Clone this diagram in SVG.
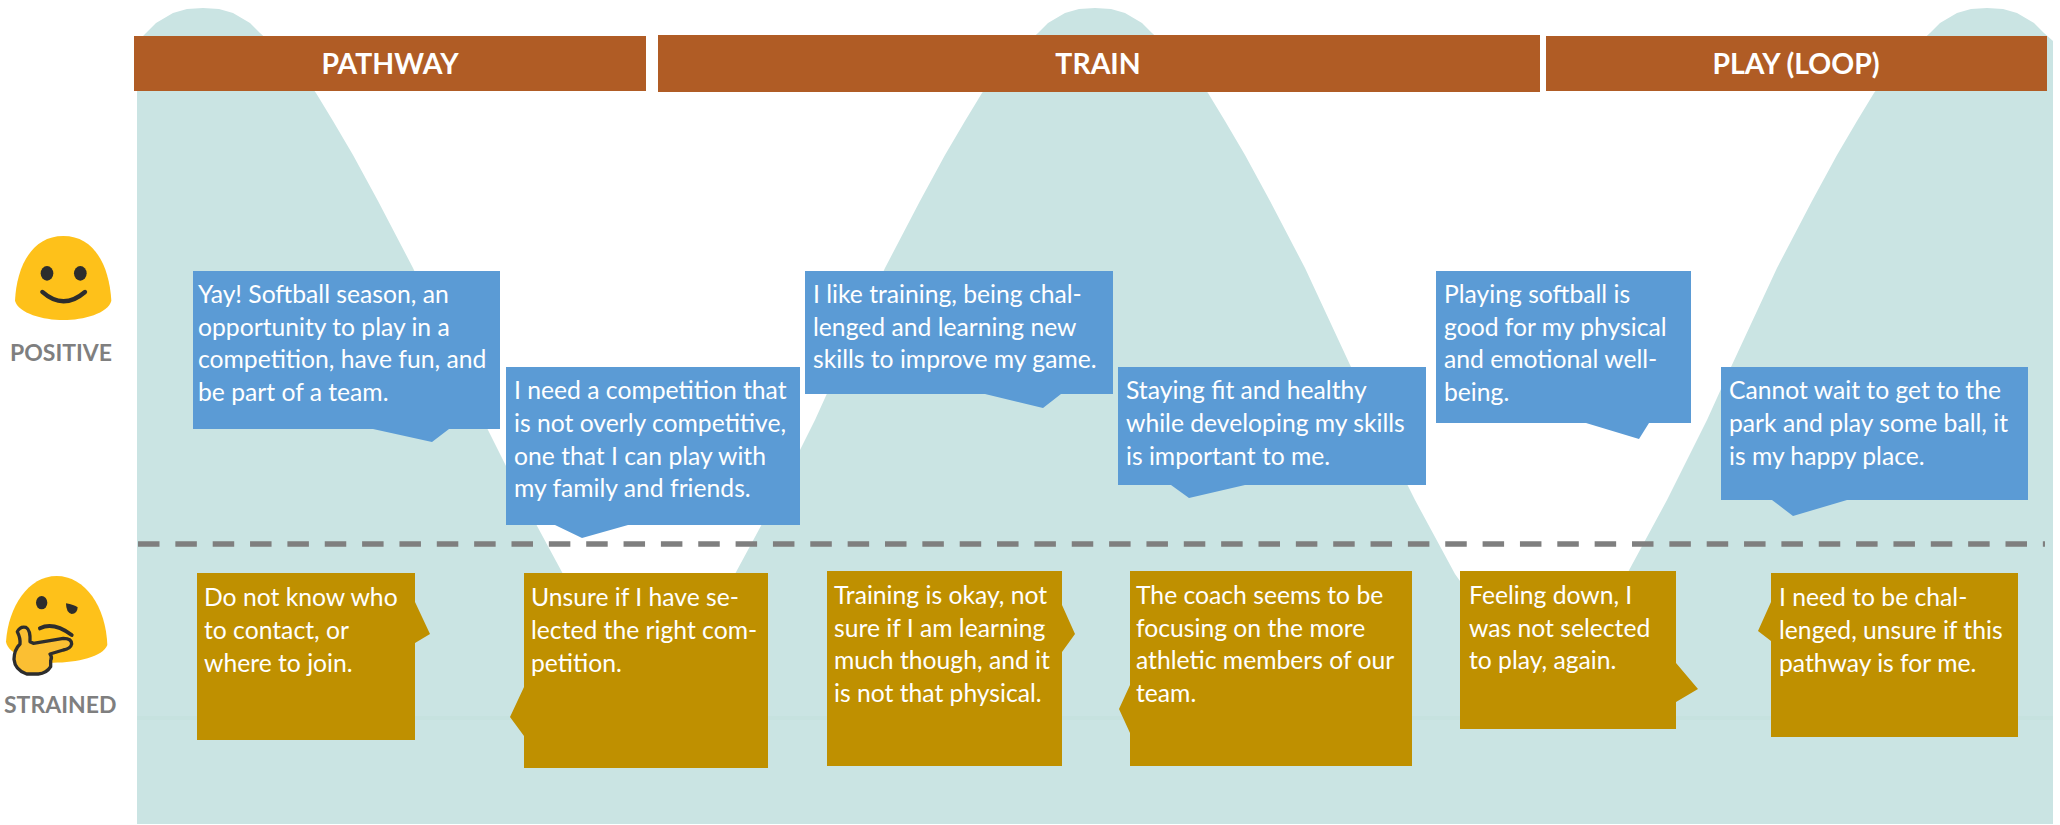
<svg xmlns="http://www.w3.org/2000/svg" width="2060" height="825" viewBox="0 0 2060 825">
<style>
text{font-family:"Lato","Liberation Sans",sans-serif}
.t{fill:#fff;font-size:24.7px}
.h{fill:#fff;font-size:28.4px;font-weight:700;text-anchor:middle}
.l{fill:#7f7f7f;font-size:23px;font-weight:700}
.hd{fill:#b05c25}
.bl{fill:#5b9bd5}
.gd{fill:#bf9000}
.yl{fill:#fec11a}
.dk{fill:#2d2d2d}
</style>
<rect width="2060" height="825" fill="#fff"/>
<g id="background">
<path fill="#cae4e3" d="M137 824V42L146 33 156 23 173 13 187 9 203 8 219 9 233 13 250 23 260 33 273 45 288 60 303 76 316 93 333 121 353 155 378 201 413 268 459 367 483 420 523 500 563 574 603 630 649 650 695 630 735 574 775 500 815 420 839 367 885 268 920 201 945 155 965 121 982 93 995 76 1010 60 1025 45 1038 33 1048 23 1065 13 1079 9 1095 8 1111 9 1125 13 1142 23 1152 33 1165 45 1180 60 1195 76 1208 93 1225 121 1245 155 1270 201 1305 268 1351 367 1375 420 1415 500 1455 574 1495 630 1541 650 1587 630 1627 574 1667 500 1707 420 1731 367 1777 268 1812 201 1837 155 1857 121 1874 93 1887 76 1902 60 1917 45 1930 33 1940 23 1957 13 1971 9 1987 8 2003 9 2017 13 2034 23 2044 33 2053 41V824Z"/>
<rect x="137" y="716" width="1916" height="4" fill="#c6e2df"/>
</g>
<g id="headers">
<g id="h-pathway"><rect class="hd" x="134" y="36" width="512" height="55"/><text class="h" x="390" y="74">PATHWAY</text></g>
<g id="h-train"><rect class="hd" x="658" y="35" width="882" height="57"/><text class="h" x="1098" y="74">TRAIN</text></g>
<g id="h-play"><rect class="hd" x="1546" y="36" width="501" height="55"/><text class="h" x="1796" y="74">PLAY (LOOP)</text></g>
</g>
<g id="connectors">
<line x1="138" y1="544" x2="2045" y2="544" stroke="#7f7f7f" stroke-width="5.5" stroke-dasharray="21.5 15.85"/>
</g>
<g id="positive">
<g transform="translate(0 230) scale(.3333)">
<path class="yl" d="M190 18C95 18 50 110 45 212C55 250 130 270 190 270C250 270 325 250 334 212C328 110 285 18 190 18Z"/>
<ellipse class="dk" cx="141" cy="130" rx="19" ry="22"/><ellipse class="dk" cx="241" cy="130" rx="19" ry="22"/>
<path d="M127 186Q190 242 255 186" fill="none" stroke="#2d2d2d" stroke-width="13" stroke-linecap="round"/>
</g>
<text class="l" x="10" y="361">POSITIVE</text>
</g>
<g id="strained">
<g transform="translate(0 570) scale(.3333)">
<path class="yl" d="M170 18C85 18 25 110 18 215C25 255 100 278 160 278C230 278 310 260 322 225C318 110 255 18 170 18Z"/>
<ellipse class="dk" cx="125" cy="98" rx="17" ry="20"/>
<path class="dk" d="M198 100Q222 104 233 112Q232 132 215 132Q198 128 198 100Z"/>
<path d="M120 175Q160 155 215 195" fill="none" stroke="#2d2d2d" stroke-width="12" stroke-linecap="round"/>
<path d="M52 185Q60 168 78 172Q92 180 90 215L100 220 190 205Q215 205 215 222Q212 236 190 240L150 252Q158 262 152 272L152 290Q140 310 115 312L80 312Q45 300 42 268Q42 240 60 222Q62 205 52 185Z" fill="#fbbf33" stroke="#2d2d2d" stroke-width="10" stroke-linejoin="round"/>
</g>
<text class="l" x="4" y="713">STRAINED</text>
</g>
<g id="b1"><path class="bl" d="M193 271H500V429H449L432 442 373 429H193Z"/><text class="t"><tspan x="198" y="303">Yay! Softball season, an</tspan><tspan x="198" y="336">opportunity to play in a</tspan><tspan x="198" y="368">competition, have fun, and</tspan><tspan x="198" y="401">be part of a team.</tspan></text></g>
<g id="b2"><path class="bl" d="M506 367H800V525H628L582 538 555 525H506Z"/><text class="t"><tspan x="514" y="399">I need a competition that</tspan><tspan x="514" y="432">is not overly competitive,</tspan><tspan x="514" y="465">one that I can play with</tspan><tspan x="514" y="497">my family and friends.</tspan></text></g>
<g id="b3"><path class="bl" d="M805 271H1113V394H1061L1043 408 985 394H805Z"/><text class="t"><tspan x="813" y="303">I like training, being chal-</tspan><tspan x="813" y="336">lenged and learning new</tspan><tspan x="813" y="368">skills to improve my game.</tspan></text></g>
<g id="b4"><path class="bl" d="M1118 367H1426V485H1245L1189 498 1171 485H1118Z"/><text class="t"><tspan x="1126" y="399">Staying fit and healthy</tspan><tspan x="1126" y="432">while developing my skills</tspan><tspan x="1126" y="465">is important to me.</tspan></text></g>
<g id="b5"><path class="bl" d="M1436 271H1691V423H1649L1639 439 1586 423H1436Z"/><text class="t"><tspan x="1444" y="303">Playing softball is</tspan><tspan x="1444" y="336">good for my physical</tspan><tspan x="1444" y="368">and emotional well-</tspan><tspan x="1444" y="401">being.</tspan></text></g>
<g id="b6"><path class="bl" d="M1721 367H2028V500H1847L1793 516 1772 500H1721Z"/><text class="t"><tspan x="1729" y="399">Cannot wait to get to the</tspan><tspan x="1729" y="432">park and play some ball, it</tspan><tspan x="1729" y="465">is my happy place.</tspan></text></g>
<g id="g1"><path class="gd" d="M197 573H415V602L430 634 415 643V740H197Z"/><text class="t"><tspan x="204" y="606">Do not know who</tspan><tspan x="204" y="639">to contact, or</tspan><tspan x="204" y="672">where to join.</tspan></text></g>
<g id="g2"><path class="gd" d="M524 573H768V768H524V736L510 717 524 687Z"/><text class="t"><tspan x="531" y="606">Unsure if I have se-</tspan><tspan x="531" y="639">lected the right com-</tspan><tspan x="531" y="672">petition.</tspan></text></g>
<g id="g3"><path class="gd" d="M827 571H1062V605L1075 634 1062 652V766H827Z"/><text class="t"><tspan x="834" y="604">Training is okay, not</tspan><tspan x="834" y="637">sure if I am learning</tspan><tspan x="834" y="669">much though, and it</tspan><tspan x="834" y="702">is not that physical.</tspan></text></g>
<g id="g4"><path class="gd" d="M1130 571H1412V766H1130V733L1119 709 1130 685Z"/><text class="t"><tspan x="1136" y="604">The coach seems to be</tspan><tspan x="1136" y="637">focusing on the more</tspan><tspan x="1136" y="669">athletic members of our</tspan><tspan x="1136" y="702">team.</tspan></text></g>
<g id="g5"><path class="gd" d="M1460 571H1676V663L1698 689 1676 702V729H1460Z"/><text class="t"><tspan x="1469" y="604">Feeling down, I</tspan><tspan x="1469" y="637">was not selected</tspan><tspan x="1469" y="669">to play, again.</tspan></text></g>
<g id="g6"><path class="gd" d="M1771 573H2018V737H1771V641L1758 631 1771 602Z"/><text class="t"><tspan x="1779" y="606">I need to be chal-</tspan><tspan x="1779" y="639">lenged, unsure if this</tspan><tspan x="1779" y="672">pathway is for me.</tspan></text></g>
</svg>
